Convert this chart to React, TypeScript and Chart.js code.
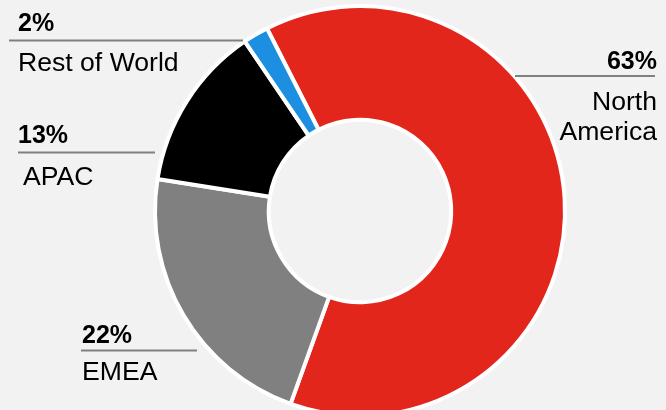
import React, { useEffect, useRef } from "react";
import { Chart, registerables } from "chart.js";

Chart.register(...registerables);

const categories = ["North America", "EMEA", "APAC", "Rest of World"];
const shares = [63, 22, 13, 2];
const sliceColors = ["#E2261C", "#808080", "#000000", "#1C8FE0"];

// label layout (positions only, not data)
const labelLayout = [
  { align: "right", x: 657, pctY: 69, lineX1: 515, lineX2: 655, lineY: 76, nameLines: ["North", "America"], nameY: 110, nameX: 657 },
  { align: "left", x: 82, pctY: 343, lineX1: 81, lineX2: 197, lineY: 350.5, nameLines: ["EMEA"], nameY: 380, nameX: 82 },
  { align: "left", x: 18, pctY: 143, lineX1: 18, lineX2: 155, lineY: 152.5, nameLines: ["APAC"], nameY: 185, nameX: 23 },
  { align: "left", x: 18, pctY: 31, lineX1: 9, lineX2: 243, lineY: 40.5, nameLines: ["Rest of World"], nameY: 71, nameX: 18 },
];

const FONT = '"Liberation Sans", Arial, sans-serif';

const calloutPlugin = {
  id: "callouts",
  afterDraw(chart: any) {
    const ctx = chart.ctx;
    ctx.save();
    const values = chart.data.datasets[0].data as number[];
    labelLayout.forEach((l, i) => {
      ctx.strokeStyle = "#808080";
      ctx.lineWidth = 2;
      ctx.beginPath();
      ctx.moveTo(l.lineX1, l.lineY);
      ctx.lineTo(l.lineX2, l.lineY);
      ctx.stroke();
      ctx.fillStyle = "#000000";
      ctx.textAlign = l.align as CanvasTextAlign;
      ctx.textBaseline = "alphabetic";
      ctx.font = `bold 25px ${FONT}`;
      ctx.fillText(`${values[i]}%`, l.x, l.pctY);
      ctx.font = `26.6px ${FONT}`;
      l.nameLines.forEach((t, j) => {
        ctx.fillText(t, l.nameX, l.nameY + j * 30);
      });
    });
    ctx.restore();
  },
};

export default function App() {
  const ref = useRef<HTMLCanvasElement | null>(null);
  useEffect(() => {
    if (!ref.current) return;
    const chart = new Chart(ref.current, {
      type: "doughnut",
      data: {
        labels: categories,
        datasets: [
          {
            data: shares,
            backgroundColor: sliceColors,
            borderColor: "#FFFFFF",
            borderWidth: 4,
            hoverBorderWidth: 4,
            hoverOffset: 0,
          },
        ],
      },
      options: {
        animation: false,
        responsive: false,
        rotation: -27,
        cutout: "44.5%",
        layout: { padding: { left: 153, right: 99, top: 4, bottom: 12 } },
        plugins: {
          legend: { display: false },
          tooltip: { enabled: false },
        },
        events: [],
      },
      plugins: [calloutPlugin],
    });
    return () => chart.destroy();
  }, []);
  return (
    <div
      style={{
        position: "fixed",
        left: 0,
        top: 0,
        width: 666,
        height: 410,
        overflow: "hidden",
        background: "#F2F2F2",
      }}
    >
      <canvas ref={ref} width={666} height={430} style={{ display: "block" }} />
    </div>
  );
}
